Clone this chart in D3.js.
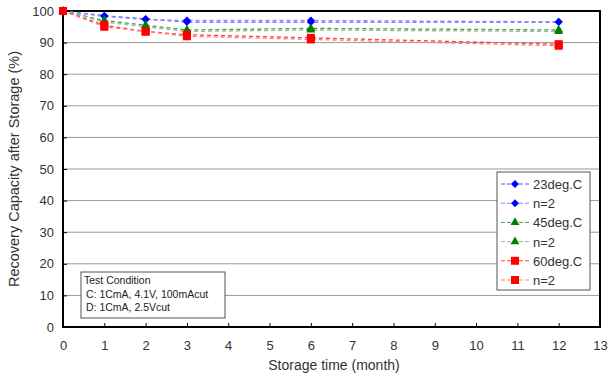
<!DOCTYPE html>
<html><head><meta charset="utf-8">
<script src="https://cdn.jsdelivr.net/npm/d3@7"></script>
<style>body{margin:0;background:#fff}svg{display:block;font-family:Arial,"Liberation Sans",sans-serif}</style>
</head><body><svg id="c" width="609" height="376"></svg>
<script>
const months = [0, 1, 2, 3, 6, 12];
const s23a = [100, 98.5, 97.5, 96.5, 96.5, 96.5];
const s23b = [100, 98.3, 97.3, 97, 97, 96.6];
const s45a = [100, 97, 95.5, 94, 94.5, 94];
const s45b = [100, 96.5, 95, 93.5, 94, 93.5];
const s60a = [100, 95.5, 93.5, 92.5, 91.5, 89.5];
const s60b = [100, 95, 93.5, 92, 91, 89];
const seriesNames = ["23deg.C", "n=2", "45deg.C", "n=2", "60deg.C", "n=2"];
const xTicks = d3.range(0, 14);
const yTicks = d3.range(0, 101, 10);
const conditionLines = ["Test Condition", "C: 1CmA, 4.1V, 100mAcut", "D: 1CmA, 2.5Vcut"];

const svg = d3.select("#c");
const L = 63, R = 600, T = 11, B = 327;
const x = d3.scaleLinear().domain([0, 13]).range([L, R]);
const y = d3.scaleLinear().domain([0, 100]).range([B, T]);

// gridlines
svg.append("g").selectAll("line").data(yTicks.filter(d => d > 0 && d < 100)).join("line")
  .attr("x1", L).attr("x2", R).attr("y1", d => y(d)).attr("y2", d => y(d))
  .attr("stroke", "#999").attr("stroke-width", 1);

// axes
const xa = svg.append("g").attr("transform", `translate(0,${B})`)
  .call(d3.axisBottom(x).tickValues(xTicks).tickSize(-4).tickPadding(14));
const ya = svg.append("g").attr("transform", `translate(${L},0)`)
  .call(d3.axisLeft(y).tickValues(yTicks).tickSize(-4).tickPadding(9));
[xa, ya].forEach(a => {
  a.select(".domain").remove();
  a.selectAll("line").attr("stroke", "#000");
  a.selectAll("text").attr("font-size", 13).attr("fill", "#333");
});
// frame
svg.append("rect").attr("x", L).attr("y", T).attr("width", R - L).attr("height", B - T)
  .attr("fill", "none").attr("stroke", "#000").attr("stroke-width", 2);

const defs = [
  {v: s23a, c: "#0000ff", lc: "#5a5aff", m: "diamond"},
  {v: s23b, c: "#0000ff", lc: "#8c8cff", m: "diamond"},
  {v: s45a, c: "#008000", lc: "#4a9a4a", m: "triangle"},
  {v: s45b, c: "#008000", lc: "#8fbf8f", m: "triangle"},
  {v: s60a, c: "#ff0000", lc: "#ff4040", m: "square"},
  {v: s60b, c: "#ff0000", lc: "#ff8080", m: "square"}
];
const diamondPath = "M0,-4L4,0L0,4L-4,0Z";
function markerPath(m) {
  if (m === "diamond") return diamondPath;
  if (m === "triangle") return d3.symbol().type(d3.symbolTriangle).size(34)();
  return d3.symbol().type(d3.symbolSquare).size(64)();
}
const line = d3.line().x(d => x(d[0])).y(d => y(d[1]));

defs.forEach(s => {
  const pts = months.map((m, i) => [m, s.v[i]]);
  svg.append("path").attr("d", line(pts)).attr("fill", "none")
    .attr("stroke", s.lc).attr("stroke-width", 1.3).attr("stroke-dasharray", "4,3");
});
defs.forEach(s => {
  const pts = months.map((m, i) => [m, s.v[i]]);
  svg.append("g").selectAll("path").data(pts).join("path")
    .attr("transform", d => `translate(${x(d[0])},${y(d[1])})`)
    .attr("d", markerPath(s.m)).attr("fill", s.c);
});

// legend
const lg = svg.append("g").attr("transform", "translate(497,172)");
lg.append("rect").attr("width", 93).attr("height", 118).attr("fill", "#fff").attr("stroke", "#555");
defs.forEach((s, i) => {
  const yy = 12 + i * 19.2;
  lg.append("line").attr("x1", 4).attr("x2", 34).attr("y1", yy).attr("y2", yy)
    .attr("stroke", s.lc).attr("stroke-dasharray", "4,2");
  lg.append("path").attr("transform", `translate(18,${yy})`)
    .attr("d", markerPath(s.m)).attr("fill", s.c);
  lg.append("text").attr("x", 36).attr("y", yy + 5).attr("font-size", 13).attr("fill", "#333").text(seriesNames[i]);
});

// condition box
const cb = svg.append("g").attr("transform", "translate(81,272)");
cb.append("rect").attr("width", 144).attr("height", 46).attr("fill", "#fff").attr("stroke", "#555");
conditionLines.forEach((t, i) => {
  cb.append("text").attr("x", i === 0 ? 3 : 5).attr("y", 12 + i * 13.5).attr("font-size", 10.5).attr("fill", "#222").text(t);
});

// axis titles
svg.append("text").attr("x", 334).attr("y", 370).attr("text-anchor", "middle")
  .attr("font-size", 14).attr("fill", "#333").text("Storage time (month)");
svg.append("text").attr("transform", `translate(19,${(T + B) / 2}) rotate(-90)`).attr("text-anchor", "middle")
  .attr("font-size", 14.5).attr("fill", "#333").text("Recovery Capacity after Storage (%)");
</script></body></html>
